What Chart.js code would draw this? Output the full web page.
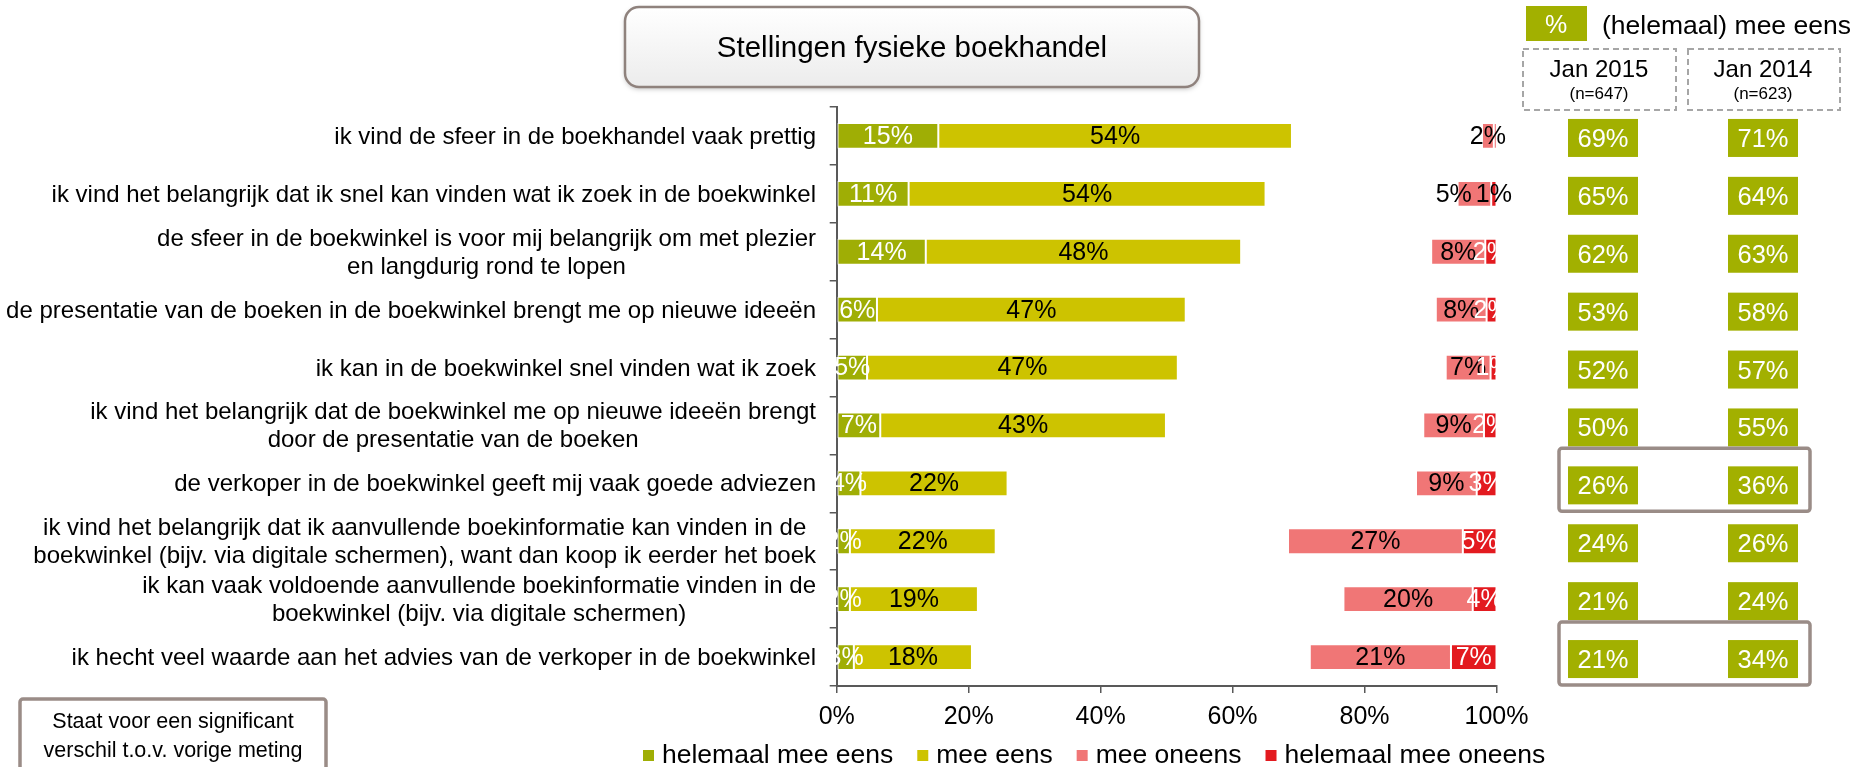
<!DOCTYPE html>
<html>
<head>
<meta charset="utf-8">
<script src="https://cdn.jsdelivr.net/npm/chart.js@4.4.1/dist/chart.umd.min.js"></script>
<style>
  html, body { margin: 0; padding: 0; background: #fff; overflow: hidden; }
  #wrap { position: relative; width: 1854px; height: 767px; }
</style>
</head>
<body>
<div id="wrap"><canvas id="chartStellingen" width="1854" height="767"></canvas></div>
<script>
// stellingen (regels per label)
const stellingen = [
  ['ik vind de sfeer in de boekhandel vaak prettig'],
  ['ik vind het belangrijk dat ik snel kan vinden wat ik zoek in de boekwinkel'],
  ['de sfeer in de boekwinkel is voor mij belangrijk om met plezier', 'en langdurig rond te lopen'],
  ['de presentatie van de boeken in de boekwinkel brengt me op nieuwe ideeën'],
  ['ik kan in de boekwinkel snel vinden wat ik zoek'],
  ['ik vind het belangrijk dat de boekwinkel me op nieuwe ideeën brengt', 'door de presentatie van de boeken'],
  ['de verkoper in de boekwinkel geeft mij vaak goede adviezen'],
  ['ik vind het belangrijk dat ik aanvullende boekinformatie kan vinden in de', 'boekwinkel (bijv. via digitale schermen), want dan koop ik eerder het boek'],
  ['ik kan vaak voldoende aanvullende boekinformatie vinden in de', 'boekwinkel (bijv. via digitale schermen)'],
  ['ik hecht veel waarde aan het advies van de verkoper in de boekwinkel'],
];

const helemaalMeeEens = [15.4, 10.9, 13.5, 6.1, 4.6, 6.6, 3.6, 2.0, 2.0, 2.6];
const meeEens = [53.6, 54.1, 47.8, 46.8, 47.1, 43.3, 22.3, 22.1, 19.4, 17.9];
const meeOneens = [1.8, 5.1, 8.2, 7.7, 6.8, 9.2, 9.2, 26.5, 19.6, 21.4];
const helemaalMeeOneens = [0.4, 0.8, 1.7, 1.5, 0.9, 1.9, 3.0, 5.1, 3.6, 6.9];

// (helemaal) mee eens per meting
const jan2015 = [69, 65, 62, 53, 52, 50, 26, 24, 21, 21];
const jan2014 = [71, 64, 63, 58, 57, 55, 36, 26, 24, 34];
const significant = [6, 9]; // index van de rijen met een kader

const xTicks = [0, 20, 40, 60, 80, 100];

const FONT = "'Liberation Sans', Arial, sans-serif";
const AXIS = '#595959';
const KADER = '#9a8c87';
const GROEN = '#a2b000';

// ruimte tussen eens en oneens (geen antwoord / neutraal), onzichtbaar
const rest = helemaalMeeEens.map((v, i) => 100 - v - meeEens[i] - meeOneens[i] - helemaalMeeOneens[i]);

const bar = { borderColor: '#ffffff', borderWidth: 1, borderSkipped: false, barPercentage: 0.445, categoryPercentage: 1 };

const overlay = {
  id: 'stellingenOverlay',
  afterDatasetsDraw(chart) {
    const { ctx, scales: { y } } = chart;
    ctx.save();

    // labels in de balken; een zwart label buiten de balk duwt zijn buurman links op
    ctx.font = '25px ' + FONT;
    ctx.textAlign = 'center';
    ctx.textBaseline = 'middle';
    const perRij = stellingen.map(() => []);
    chart.data.datasets.forEach((ds, di) => {
      if (!ds.labelColor) return;
      chart.getDatasetMeta(di).data.forEach((el, i) => {
        const v = Math.round(ds.data[i]);
        if (v < 1) return;
        const txt = v + '%';
        perRij[i].push({
          txt,
          x: (el.x + el.base) / 2,
          y: el.y + 1,
          w: ctx.measureText(txt).width,
          color: typeof ds.labelColor === 'function' ? ds.labelColor(i) : ds.labelColor,
          outside: typeof ds.labelColor === 'function' && ds.labelColor(i) === '#000000',
        });
      });
    });
    perRij.forEach((items) => {
      for (let k = items.length - 2; k >= 0; k--) {
        const a = items[k], b = items[k + 1];
        const overlap = (a.x + a.w / 2) - (b.x - b.w / 2);
        if (b.outside && overlap > 0) a.x = b.x - b.w / 2 - 4 - a.w / 2;
      }
      items.forEach((it) => {
        ctx.fillStyle = it.color;
        ctx.fillText(it.txt, it.x, it.y);
      });
    });

    // categorie labels: blok rechts uitgelijnd, regels gecentreerd
    ctx.font = '24px ' + FONT;
    ctx.fillStyle = '#000';
    ctx.textBaseline = 'alphabetic';
    const right = 816;
    stellingen.forEach((lines, i) => {
      const cy = y.getPixelForValue(i);
      const w = Math.max(...lines.map((l) => ctx.measureText(l).width));
      const cx = right - w / 2;
      const lh = 28;
      lines.forEach((l, k) => {
        const off = (k - (lines.length - 1) / 2) * lh;
        ctx.fillText(l, cx, cy + 8 + off);
      });
    });
    ctx.restore();
  },
  afterDraw(chart) {
    const { ctx, scales: { y } } = chart;
    ctx.save();

    // titel kader
    ctx.save();
    ctx.shadowColor = 'rgba(0,0,0,0.25)';
    ctx.shadowBlur = 5;
    ctx.shadowOffsetY = 2;
    const g = ctx.createLinearGradient(0, 7, 0, 87);
    g.addColorStop(0, '#ffffff');
    g.addColorStop(1, '#ececec');
    ctx.fillStyle = g;
    ctx.beginPath();
    ctx.roundRect(625, 7, 574, 80, 14);
    ctx.fill();
    ctx.restore();
    ctx.strokeStyle = '#8f827d';
    ctx.lineWidth = 2.5;
    ctx.beginPath();
    ctx.roundRect(625, 7, 574, 80, 14);
    ctx.stroke();
    ctx.fillStyle = '#000';
    ctx.font = '29.5px ' + FONT;
    ctx.textAlign = 'center';
    ctx.textBaseline = 'alphabetic';
    ctx.fillText('Stellingen fysieke boekhandel', 912, 57);

    // kop rechts
    ctx.fillStyle = GROEN;
    ctx.fillRect(1526, 6, 61, 35);
    ctx.fillStyle = '#fff';
    ctx.font = '25px ' + FONT;
    ctx.fillText('%', 1556, 33);
    ctx.fillStyle = '#000';
    ctx.textAlign = 'left';
    ctx.font = '26.5px ' + FONT;
    ctx.fillText('(helemaal) mee eens', 1602, 34);

    ctx.strokeStyle = '#a6a6a6';
    ctx.lineWidth = 2;
    ctx.setLineDash([6, 4]);
    ctx.strokeRect(1523, 49, 153, 61);
    ctx.strokeRect(1688, 49, 152, 61);
    ctx.setLineDash([]);
    ctx.fillStyle = '#000';
    ctx.textAlign = 'center';
    ctx.font = '24px ' + FONT;
    ctx.fillText('Jan 2015', 1599, 77);
    ctx.fillText('Jan 2014', 1763, 77);
    ctx.font = '17px ' + FONT;
    ctx.fillText('(n=647)', 1599, 99);
    ctx.fillText('(n=623)', 1763, 99);

    // waardes per meting
    ctx.font = '25.5px ' + FONT;
    ctx.textBaseline = 'middle';
    jan2015.forEach((v, i) => {
      const cy = y.getPixelForValue(i) + 2;
      ctx.fillStyle = GROEN;
      ctx.fillRect(1568, cy - 19, 70, 38);
      ctx.fillRect(1728, cy - 19, 70, 38);
      ctx.fillStyle = '#fff';
      ctx.fillText(v + '%', 1603, cy + 2);
      ctx.fillText(jan2014[i] + '%', 1763, cy + 2);
    });

    // significant verschil kaders
    ctx.strokeStyle = KADER;
    ctx.lineWidth = 3.5;
    significant.forEach((i) => {
      const cy = y.getPixelForValue(i);
      ctx.beginPath();
      ctx.roundRect(1559, cy - 35, 251, 63, 3);
      ctx.stroke();
    });

    // uitleg kader
    ctx.beginPath();
    ctx.roundRect(20, 699, 306, 80, 3);
    ctx.stroke();
    ctx.fillStyle = '#000';
    ctx.font = '21.5px ' + FONT;
    ctx.textBaseline = 'alphabetic';
    ctx.fillText('Staat voor een significant', 173, 728);
    ctx.fillText('verschil t.o.v. vorige meting', 173, 757);

    // legenda
    ctx.font = '26.5px ' + FONT;
    ctx.textAlign = 'left';
    let lx = 643;
    chart.data.datasets.filter((ds) => ds.label).forEach((ds) => {
      ctx.fillStyle = ds.backgroundColor;
      ctx.fillRect(lx, 750, 11, 11);
      ctx.fillStyle = '#000';
      ctx.fillText(ds.label, lx + 19, 763);
      lx += 19 + ctx.measureText(ds.label).width + 24;
    });
    ctx.restore();
  },
};

new Chart(document.getElementById('chartStellingen'), {
  type: 'bar',
  data: {
    labels: stellingen.map((l) => l.join(' ')),
    datasets: [
      { ...bar, label: 'helemaal mee eens', data: helemaalMeeEens, backgroundColor: '#9fae05', labelColor: '#ffffff' },
      { ...bar, label: 'mee eens', data: meeEens, backgroundColor: '#cdc300', labelColor: '#000000' },
      { ...bar, label: '', data: rest, backgroundColor: 'rgba(0,0,0,0)', borderWidth: 0 },
      { ...bar, label: 'mee oneens', data: meeOneens, backgroundColor: '#f07676', labelColor: '#000000' },
      { ...bar, label: 'helemaal mee oneens', data: helemaalMeeOneens, backgroundColor: '#e31a1f', labelColor: (i) => (i === 1 ? '#000000' : '#ffffff') },
    ],
  },
  options: {
    indexAxis: 'y',
    responsive: false,
    animation: false,
    events: [],
    layout: { padding: { top: 107, right: 357.5, left: 0, bottom: 0 } },
    plugins: { legend: { display: false }, tooltip: { enabled: false } },
    scales: {
      x: {
        stacked: true,
        min: 0,
        max: 100,
        afterBuildTicks: (s) => { s.ticks = xTicks.map((v) => ({ value: v })); },
        afterFit: (s) => { s.height = 81; },
        grid: { drawOnChartArea: false, tickLength: 7, color: AXIS, lineWidth: 1.5 },
        border: { color: AXIS, width: 2 },
        ticks: { color: '#000', padding: 9, font: { family: FONT, size: 25 }, callback: (v) => v + '%' },
      },
      y: {
        stacked: true,
        afterFit: (s) => { s.width = 836.7; },
        grid: { drawOnChartArea: false, tickLength: 7, color: AXIS, lineWidth: 1.5, offset: true },
        border: { color: AXIS, width: 2 },
        ticks: { display: false },
      },
    },
  },
  plugins: [overlay],
});
</script>
</body>
</html>
